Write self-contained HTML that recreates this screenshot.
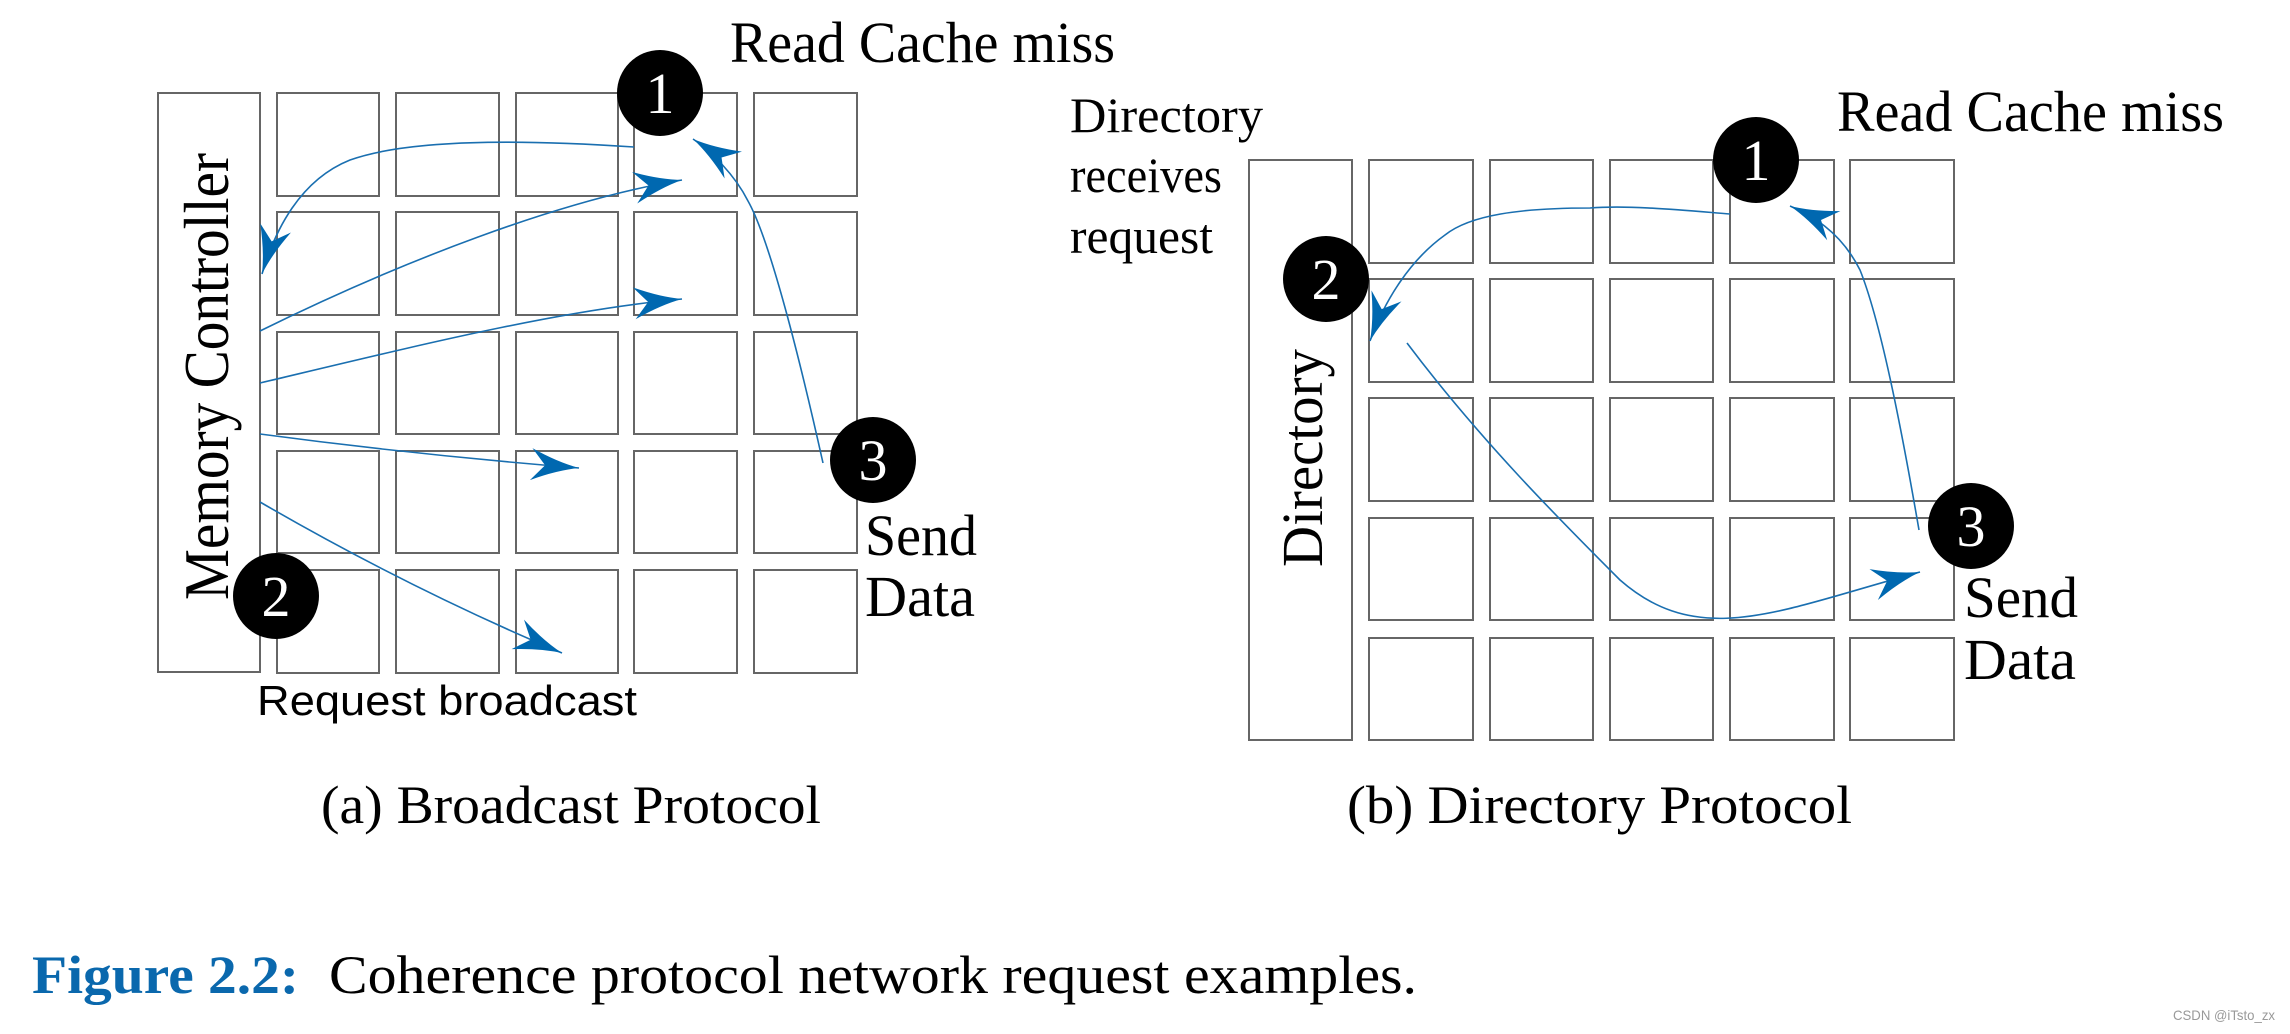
<!DOCTYPE html>
<html><head><meta charset="utf-8"><style>
html,body{margin:0;padding:0;background:#fff;}
svg{display:block;}
</style></head><body>
<svg width="2290" height="1034" viewBox="0 0 2290 1034" xmlns="http://www.w3.org/2000/svg">
<defs>
<marker id="ah" markerUnits="userSpaceOnUse" markerWidth="60" markerHeight="40" refX="0" refY="0" viewBox="-50 -20 52 40" orient="auto">
<path d="M0,0 Q-22,-4 -48,-16 L-34,0 L-48,16 Q-22,4 0,0Z" fill="#0068b0"/>
</marker>
</defs>
<g fill="none" stroke="#666" stroke-width="2">
<rect x="158" y="93" width="102" height="579"/>
<g id="gl">
<rect x="277" y="93" width="102" height="103"/><rect x="396" y="93" width="103" height="103"/><rect x="516" y="93" width="102" height="103"/><rect x="634" y="93" width="103" height="103"/><rect x="754" y="93" width="103" height="103"/>
<rect x="277" y="212" width="102" height="103"/><rect x="396" y="212" width="103" height="103"/><rect x="516" y="212" width="102" height="103"/><rect x="634" y="212" width="103" height="103"/><rect x="754" y="212" width="103" height="103"/>
<rect x="277" y="332" width="102" height="102"/><rect x="396" y="332" width="103" height="102"/><rect x="516" y="332" width="102" height="102"/><rect x="634" y="332" width="103" height="102"/><rect x="754" y="332" width="103" height="102"/>
<rect x="277" y="451" width="102" height="102"/><rect x="396" y="451" width="103" height="102"/><rect x="516" y="451" width="102" height="102"/><rect x="634" y="451" width="103" height="102"/><rect x="754" y="451" width="103" height="102"/>
<rect x="277" y="570" width="102" height="103"/><rect x="396" y="570" width="103" height="103"/><rect x="516" y="570" width="102" height="103"/><rect x="634" y="570" width="103" height="103"/><rect x="754" y="570" width="103" height="103"/>
</g>
<rect x="1249" y="160" width="103" height="580"/>
<rect x="1369" y="160" width="104" height="103"/><rect x="1490" y="160" width="103" height="103"/><rect x="1610" y="160" width="103" height="103"/><rect x="1730" y="160" width="104" height="103"/><rect x="1850" y="160" width="104" height="103"/>
<rect x="1369" y="279" width="104" height="103"/><rect x="1490" y="279" width="103" height="103"/><rect x="1610" y="279" width="103" height="103"/><rect x="1730" y="279" width="104" height="103"/><rect x="1850" y="279" width="104" height="103"/>
<rect x="1369" y="398" width="104" height="103"/><rect x="1490" y="398" width="103" height="103"/><rect x="1610" y="398" width="103" height="103"/><rect x="1730" y="398" width="104" height="103"/><rect x="1850" y="398" width="104" height="103"/>
<rect x="1369" y="518" width="104" height="102"/><rect x="1490" y="518" width="103" height="102"/><rect x="1610" y="518" width="103" height="102"/><rect x="1730" y="518" width="104" height="102"/><rect x="1850" y="518" width="104" height="102"/>
<rect x="1369" y="638" width="104" height="102"/><rect x="1490" y="638" width="103" height="102"/><rect x="1610" y="638" width="103" height="102"/><rect x="1730" y="638" width="104" height="102"/><rect x="1850" y="638" width="104" height="102"/>
</g>
<g fill="none" stroke="#1a6fb0" stroke-width="1.6" marker-end="url(#ah)">
<path d="M634,147 C560,142 420,135 350,160 C300,180 275,230 262,274"/>
<path d="M260,331 C400,262 560,200 682,180"/>
<path d="M260,383 C420,345 560,310 682,299"/>
<path d="M260,434 C380,450 480,460 579,468"/>
<path d="M260,502 C360,560 460,610 562,653"/>
<path d="M823,463 C800,360 770,240 748,201 C735,175 710,150 693,139"/>
<path d="M1730,214 C1680,210 1630,205 1590,208 C1520,208 1470,215 1445,235 C1410,260 1385,300 1370,341"/>
<path d="M1407,343 C1480,440 1560,520 1620,580 C1700,650 1780,610 1920,572"/>
<path d="M1919,530 C1900,420 1880,320 1860,270 C1840,230 1810,215 1790,206"/>
</g>
<g fill="#000"><circle cx="660" cy="93" r="43"/><circle cx="276" cy="596" r="43"/><circle cx="873" cy="460" r="43"/>
<circle cx="1756" cy="160" r="43"/><circle cx="1326" cy="279" r="43"/><circle cx="1971" cy="526" r="43"/></g>
<g font-family="Liberation Serif, serif" font-size="58" fill="#fff" text-anchor="middle">
<text x="660" y="113">1</text><text x="276" y="616">2</text><text x="873" y="480">3</text>
<text x="1756" y="180">1</text><text x="1326" y="299">2</text><text x="1971" y="546">3</text>
</g>
<g font-family="Liberation Serif, serif" fill="#000">
<text x="730" y="62" font-size="58" textLength="385" lengthAdjust="spacingAndGlyphs">Read Cache miss</text>
<text x="865" y="555" font-size="58" textLength="112" lengthAdjust="spacingAndGlyphs">Send</text>
<text x="865" y="616" font-size="58" textLength="110" lengthAdjust="spacingAndGlyphs">Data</text>
<text transform="translate(228,600) rotate(-90)" font-size="64" textLength="447" lengthAdjust="spacingAndGlyphs">Memory Controller</text>
<text x="1837" y="131" font-size="58" textLength="387" lengthAdjust="spacingAndGlyphs">Read Cache miss</text>
<text x="1964" y="617" font-size="58" textLength="114" lengthAdjust="spacingAndGlyphs">Send</text>
<text x="1964" y="679" font-size="58" textLength="112" lengthAdjust="spacingAndGlyphs">Data</text>
<text transform="translate(1322,567) rotate(-90)" font-size="58" textLength="218" lengthAdjust="spacingAndGlyphs">Directory</text>
<text x="1070" y="132" font-size="50" textLength="193" lengthAdjust="spacingAndGlyphs">Directory</text>
<text x="1070" y="192" font-size="50" textLength="152" lengthAdjust="spacingAndGlyphs">receives</text>
<text x="1070" y="253" font-size="50" textLength="143" lengthAdjust="spacingAndGlyphs">request</text>
<text x="321" y="823" font-size="54" textLength="500" lengthAdjust="spacingAndGlyphs">(a) Broadcast Protocol</text>
<text x="1347" y="823" font-size="54" textLength="505" lengthAdjust="spacingAndGlyphs">(b) Directory Protocol</text>
<text x="32" y="993" font-size="54" font-weight="bold" fill="#0a68ad" textLength="267" lengthAdjust="spacingAndGlyphs">Figure 2.2:</text>
<text x="329" y="993" font-size="54" textLength="1088" lengthAdjust="spacingAndGlyphs">Coherence protocol network request examples.</text>
</g>
<text x="257" y="715" font-family="Liberation Sans, sans-serif" font-size="42" fill="#000" textLength="380" lengthAdjust="spacingAndGlyphs">Request broadcast</text>
<text x="2173" y="1020" font-family="Liberation Sans, sans-serif" font-size="14" fill="#999" textLength="102" lengthAdjust="spacingAndGlyphs">CSDN @iTsto_zx</text>
</svg>
</body></html>
